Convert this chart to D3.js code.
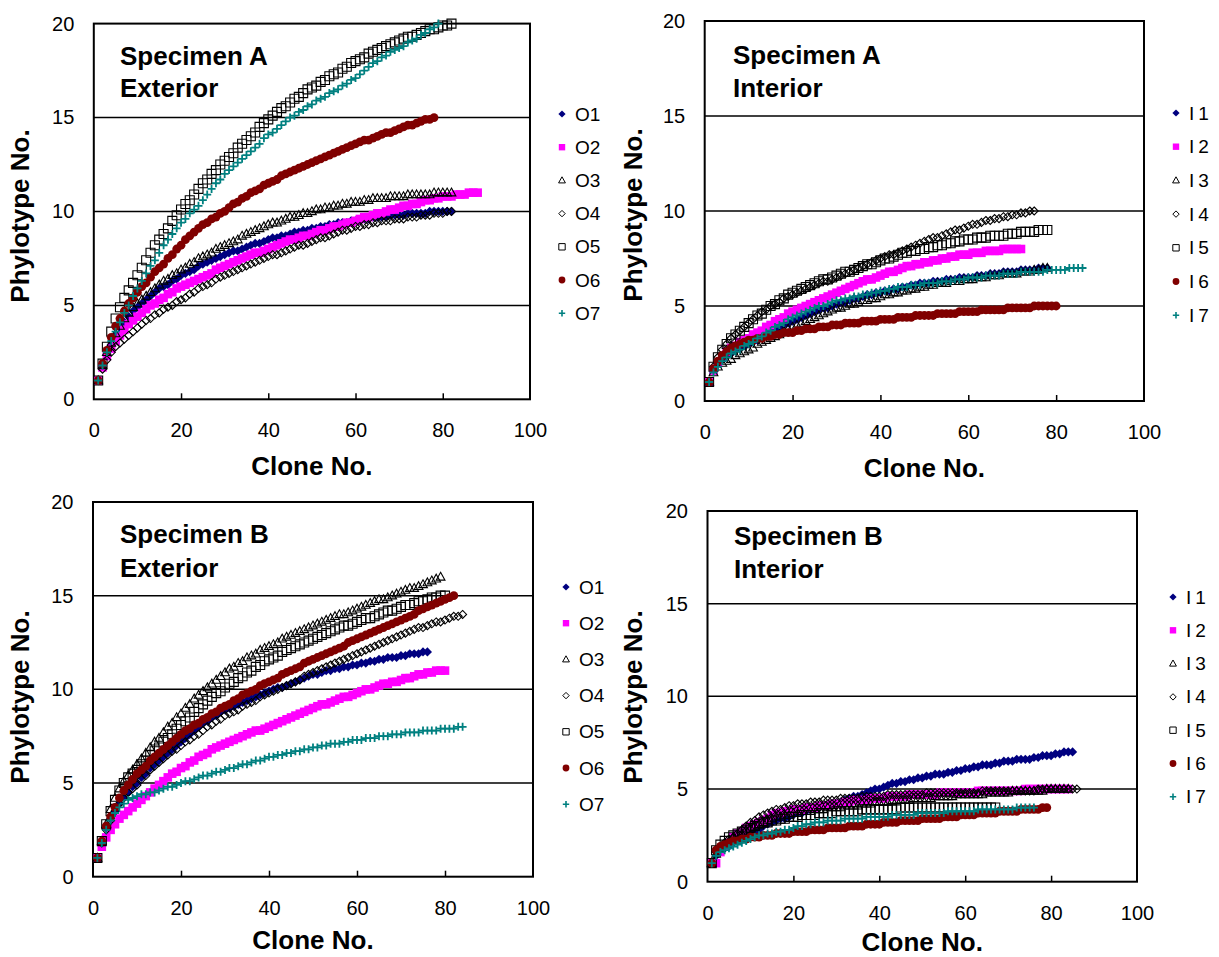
<!DOCTYPE html>
<html><head><meta charset="utf-8">
<script src="https://cdn.jsdelivr.net/npm/d3@7"></script>
<style>body{margin:0;background:#fff}svg{display:block}text{font-family:"Liberation Sans",Arial,sans-serif}</style>
</head><body><svg id="c" width="1219" height="957"></svg>
<script>
// ---------- data: phylotype no. at clone 1..N ----------
const aExtO1=[1.0,1.8,2.4,2.9,3.4,3.8,4.1,4.4,4.7,4.9,5.1,5.3,5.5,5.7,5.9,6.0,6.1,6.3,6.4,6.6,6.7,6.8,6.9,7.1,7.2,7.3,7.4,7.5,7.6,7.7,7.8,7.9,7.9,8.0,8.1,8.2,8.3,8.3,8.4,8.5,8.6,8.6,8.7,8.7,8.8,8.9,8.9,9.0,9.0,9.1,9.1,9.2,9.2,9.3,9.3,9.4,9.4,9.4,9.5,9.5,9.5,9.6,9.6,9.7,9.7,9.7,9.7,9.8,9.8,9.8,9.8,9.9,9.9,9.9,9.9,9.9,10.0,10.0,10.0,10.0,10.0,10.0];
const aExtO2=[1.0,1.7,2.3,2.7,3.1,3.4,3.7,4.0,4.2,4.4,4.6,4.8,5.0,5.1,5.3,5.4,5.6,5.7,5.9,6.0,6.1,6.2,6.3,6.4,6.5,6.6,6.7,6.9,7.0,7.1,7.2,7.3,7.4,7.5,7.6,7.7,7.8,7.8,7.9,8.0,8.1,8.2,8.3,8.4,8.5,8.5,8.6,8.7,8.7,8.8,8.9,9.0,9.0,9.1,9.2,9.2,9.3,9.4,9.4,9.5,9.6,9.7,9.7,9.8,9.9,9.9,10.0,10.1,10.1,10.2,10.3,10.3,10.4,10.4,10.5,10.6,10.6,10.7,10.7,10.8,10.8,10.8,10.9,10.9,10.9,11.0,11.0,11.0];
const aExtO3=[1.0,1.8,2.5,3.0,3.5,3.9,4.3,4.6,4.9,5.1,5.3,5.5,5.7,5.9,6.1,6.3,6.4,6.6,6.7,6.9,7.0,7.2,7.3,7.5,7.6,7.7,7.8,8.0,8.1,8.2,8.3,8.4,8.5,8.7,8.8,8.9,9.0,9.1,9.2,9.3,9.4,9.4,9.5,9.6,9.7,9.7,9.8,9.9,9.9,10.0,10.1,10.1,10.2,10.2,10.3,10.3,10.4,10.4,10.5,10.5,10.5,10.6,10.6,10.7,10.7,10.7,10.7,10.8,10.8,10.8,10.8,10.9,10.9,10.9,10.9,10.9,10.9,11.0,11.0,11.0,11.0,11.0];
const aExtO4=[1.0,1.6,2.1,2.5,2.8,3.0,3.2,3.4,3.6,3.8,4.0,4.2,4.3,4.5,4.6,4.8,4.9,5.0,5.2,5.3,5.4,5.6,5.7,5.9,6.0,6.1,6.2,6.4,6.5,6.6,6.7,6.8,6.9,7.0,7.1,7.2,7.3,7.4,7.5,7.6,7.7,7.7,7.8,7.9,8.0,8.1,8.2,8.2,8.3,8.4,8.5,8.6,8.6,8.7,8.8,8.9,9.0,9.0,9.1,9.2,9.2,9.3,9.3,9.4,9.4,9.5,9.5,9.5,9.6,9.6,9.6,9.7,9.7,9.7,9.8,9.8,9.8,9.9,9.9,9.9,10.0,10.0];
const aExtO5=[1.0,1.9,2.8,3.6,4.3,4.9,5.4,5.8,6.2,6.6,7.0,7.4,7.8,8.2,8.5,8.8,9.1,9.5,9.8,10.1,10.4,10.6,10.9,11.2,11.5,11.7,12.0,12.2,12.5,12.7,12.9,13.1,13.4,13.6,13.8,14.0,14.2,14.5,14.7,14.9,15.1,15.3,15.5,15.6,15.8,16.0,16.1,16.3,16.5,16.6,16.7,16.9,17.0,17.2,17.3,17.4,17.6,17.7,17.9,18.0,18.1,18.2,18.4,18.5,18.6,18.7,18.8,18.9,19.0,19.1,19.2,19.3,19.3,19.4,19.5,19.6,19.7,19.7,19.8,19.9,19.9,20.0];
const aExtO6=[1.0,1.9,2.6,3.3,3.9,4.3,4.7,5.1,5.4,5.7,6.0,6.2,6.5,6.8,7.0,7.2,7.5,7.7,8.0,8.2,8.5,8.7,8.9,9.1,9.3,9.4,9.6,9.7,9.9,10.0,10.2,10.4,10.5,10.7,10.8,11.0,11.1,11.2,11.4,11.5,11.6,11.7,11.9,12.0,12.1,12.2,12.3,12.4,12.5,12.6,12.7,12.8,12.9,13.0,13.1,13.2,13.3,13.4,13.5,13.6,13.7,13.8,13.8,13.9,14.0,14.1,14.2,14.2,14.3,14.4,14.5,14.6,14.6,14.7,14.8,14.9,14.9,15.0];
const aExtO7=[1.0,1.8,2.5,3.1,3.6,4.1,4.6,5.0,5.5,5.9,6.3,6.7,7.1,7.4,7.8,8.2,8.5,8.8,9.1,9.4,9.6,9.9,10.1,10.3,10.6,10.9,11.2,11.5,11.7,12.0,12.2,12.4,12.6,12.8,13.0,13.2,13.4,13.6,13.9,14.1,14.2,14.4,14.6,14.8,15.0,15.1,15.3,15.4,15.6,15.7,15.9,16.0,16.1,16.3,16.4,16.5,16.7,16.8,17.0,17.1,17.3,17.5,17.7,17.9,18.0,18.2,18.3,18.5,18.6,18.7,18.8,19.0,19.1,19.2,19.4,19.5,19.7,19.8,20.0];

const aIntI1=[1.0,1.6,2.0,2.2,2.4,2.5,2.7,2.8,2.9,3.0,3.1,3.2,3.4,3.5,3.6,3.7,3.8,4.0,4.1,4.2,4.3,4.4,4.5,4.6,4.7,4.8,4.9,4.9,5.0,5.1,5.2,5.2,5.3,5.4,5.4,5.5,5.6,5.6,5.7,5.7,5.8,5.8,5.9,5.9,6.0,6.0,6.1,6.1,6.2,6.2,6.2,6.3,6.3,6.3,6.4,6.4,6.4,6.5,6.5,6.5,6.5,6.6,6.6,6.6,6.7,6.7,6.7,6.8,6.8,6.8,6.8,6.9,6.9,6.9,6.9,7.0,7.0,7.0];
const aIntI2=[1.0,1.6,2.0,2.3,2.6,2.8,2.9,3.1,3.2,3.3,3.5,3.6,3.7,3.9,4.0,4.2,4.3,4.4,4.6,4.7,4.8,4.9,5.0,5.1,5.2,5.3,5.4,5.5,5.6,5.7,5.8,5.9,6.0,6.1,6.2,6.3,6.4,6.4,6.5,6.6,6.7,6.8,6.8,6.9,7.0,7.1,7.1,7.2,7.2,7.3,7.3,7.4,7.4,7.5,7.5,7.6,7.6,7.7,7.7,7.7,7.8,7.8,7.8,7.9,7.9,7.9,7.9,8.0,8.0,8.0,8.0,8.0];
const aIntI3=[1.0,1.5,1.8,2.0,2.1,2.2,2.4,2.5,2.6,2.7,2.8,3.0,3.1,3.2,3.3,3.4,3.5,3.7,3.8,3.9,4.0,4.1,4.2,4.3,4.4,4.5,4.6,4.7,4.8,4.9,4.9,5.0,5.1,5.1,5.2,5.3,5.3,5.4,5.4,5.5,5.6,5.6,5.7,5.7,5.8,5.8,5.9,5.9,6.0,6.0,6.1,6.1,6.2,6.2,6.2,6.3,6.3,6.3,6.4,6.4,6.4,6.5,6.5,6.5,6.6,6.6,6.6,6.7,6.7,6.7,6.7,6.8,6.8,6.8,6.9,6.9,7.0,7.0];
const aIntI4=[1.0,1.8,2.3,2.7,3.0,3.3,3.5,3.7,3.9,4.1,4.3,4.5,4.7,4.8,5.0,5.1,5.2,5.4,5.5,5.6,5.7,5.8,5.9,6.0,6.1,6.2,6.3,6.3,6.4,6.5,6.6,6.7,6.8,6.9,7.0,7.1,7.2,7.3,7.4,7.5,7.6,7.7,7.7,7.8,7.9,8.0,8.1,8.2,8.3,8.4,8.5,8.6,8.6,8.7,8.8,8.9,9.0,9.0,9.1,9.2,9.3,9.3,9.4,9.5,9.5,9.6,9.6,9.7,9.7,9.8,9.8,9.9,9.9,10.0,10.0];
const aIntI5=[1.0,1.8,2.3,2.7,3.0,3.3,3.5,3.7,3.9,4.1,4.3,4.5,4.6,4.8,5.0,5.1,5.3,5.4,5.6,5.7,5.8,5.9,6.0,6.1,6.2,6.3,6.4,6.4,6.5,6.6,6.7,6.8,6.8,6.9,7.0,7.1,7.2,7.2,7.3,7.4,7.5,7.5,7.6,7.7,7.8,7.8,7.9,7.9,8.0,8.0,8.1,8.1,8.2,8.2,8.3,8.3,8.4,8.4,8.5,8.5,8.5,8.6,8.6,8.6,8.7,8.7,8.7,8.7,8.8,8.8,8.8,8.9,8.9,8.9,8.9,9.0,9.0,9.0];
const aIntI6=[1.0,1.7,2.1,2.4,2.6,2.8,2.9,3.0,3.1,3.2,3.2,3.3,3.3,3.4,3.4,3.5,3.5,3.6,3.6,3.6,3.7,3.7,3.8,3.8,3.8,3.9,3.9,3.9,4.0,4.0,4.0,4.1,4.1,4.1,4.1,4.2,4.2,4.2,4.2,4.3,4.3,4.3,4.3,4.4,4.4,4.4,4.4,4.5,4.5,4.5,4.5,4.5,4.6,4.6,4.6,4.6,4.6,4.7,4.7,4.7,4.7,4.7,4.8,4.8,4.8,4.8,4.8,4.8,4.9,4.9,4.9,4.9,4.9,4.9,5.0,5.0,5.0,5.0,5.0,5.0];
const aIntI7=[1.0,1.5,1.8,2.1,2.3,2.5,2.6,2.7,2.9,3.0,3.1,3.3,3.4,3.6,3.7,3.9,4.0,4.1,4.3,4.4,4.5,4.6,4.7,4.8,4.9,5.0,5.0,5.1,5.2,5.3,5.3,5.4,5.4,5.5,5.5,5.6,5.6,5.7,5.7,5.8,5.8,5.9,5.9,6.0,6.0,6.0,6.1,6.1,6.1,6.2,6.2,6.2,6.2,6.3,6.3,6.3,6.4,6.4,6.4,6.5,6.5,6.5,6.5,6.6,6.6,6.6,6.6,6.7,6.7,6.7,6.7,6.8,6.8,6.8,6.8,6.8,6.8,6.9,6.9,6.9,6.9,6.9,7.0,7.0,7.0,7.0];

const bExtO1=[1.0,1.9,2.6,3.1,3.5,3.9,4.2,4.5,4.8,5.0,5.3,5.5,5.8,6.0,6.2,6.4,6.6,6.8,7.0,7.2,7.4,7.6,7.8,8.0,8.2,8.3,8.5,8.6,8.8,8.9,9.0,9.1,9.2,9.3,9.4,9.5,9.6,9.7,9.8,9.9,10.0,10.1,10.1,10.2,10.3,10.4,10.5,10.6,10.7,10.8,10.8,10.9,11.0,11.0,11.1,11.1,11.2,11.2,11.3,11.3,11.4,11.4,11.5,11.5,11.6,11.6,11.7,11.7,11.7,11.8,11.8,11.9,11.9,11.9,12.0,12.0];
const bExtO2=[1.0,1.6,2.1,2.5,2.8,3.1,3.3,3.5,3.7,3.9,4.1,4.3,4.5,4.7,4.9,5.1,5.3,5.5,5.6,5.8,5.9,6.1,6.2,6.4,6.5,6.6,6.8,6.9,7.0,7.1,7.2,7.3,7.4,7.5,7.6,7.7,7.8,7.8,7.9,8.0,8.1,8.2,8.3,8.4,8.5,8.6,8.7,8.8,8.9,9.0,9.1,9.2,9.2,9.3,9.4,9.5,9.6,9.6,9.7,9.8,9.9,10.0,10.0,10.1,10.2,10.3,10.3,10.4,10.4,10.5,10.6,10.6,10.7,10.8,10.8,10.9,10.9,11.0,11.0,11.0];
const bExtO3=[1.0,1.9,2.8,3.6,4.2,4.7,5.1,5.4,5.7,6.0,6.3,6.6,6.9,7.2,7.4,7.7,8.0,8.2,8.5,8.7,9.0,9.2,9.5,9.7,9.9,10.1,10.3,10.5,10.7,10.9,11.1,11.2,11.4,11.5,11.7,11.8,11.9,12.1,12.2,12.3,12.4,12.5,12.7,12.8,12.9,13.0,13.1,13.2,13.3,13.4,13.5,13.6,13.7,13.8,13.9,14.0,14.0,14.1,14.2,14.3,14.4,14.5,14.6,14.7,14.8,14.8,14.9,15.0,15.1,15.2,15.3,15.4,15.4,15.5,15.6,15.7,15.8,15.9,16.0];
const bExtO4=[1.0,1.8,2.5,3.0,3.5,3.9,4.2,4.5,4.7,4.9,5.2,5.4,5.7,5.9,6.1,6.3,6.5,6.7,6.8,7.0,7.2,7.3,7.5,7.6,7.8,8.0,8.1,8.3,8.4,8.6,8.7,8.8,8.9,9.1,9.2,9.3,9.4,9.6,9.7,9.8,9.9,10.0,10.1,10.2,10.3,10.4,10.5,10.7,10.8,10.9,11.0,11.1,11.2,11.3,11.4,11.5,11.6,11.7,11.8,11.9,12.0,12.1,12.2,12.3,12.4,12.5,12.6,12.7,12.8,12.9,13.0,13.1,13.2,13.3,13.3,13.4,13.5,13.6,13.6,13.7,13.8,13.9,13.9,14.0];
const bExtO5=[1.0,1.9,2.8,3.5,4.1,4.6,5.0,5.3,5.5,5.7,6.0,6.2,6.5,6.7,6.9,7.2,7.4,7.6,7.9,8.1,8.3,8.5,8.8,9.0,9.2,9.4,9.6,9.8,9.9,10.1,10.3,10.4,10.6,10.7,10.9,11.0,11.2,11.3,11.5,11.6,11.7,11.8,12.0,12.1,12.2,12.3,12.4,12.5,12.6,12.7,12.8,12.9,13.0,13.1,13.2,13.3,13.4,13.4,13.5,13.6,13.7,13.8,13.8,13.9,14.0,14.1,14.2,14.2,14.3,14.4,14.5,14.5,14.6,14.7,14.7,14.8,14.9,14.9,15.0,15.0];
const bExtO6=[1.0,1.9,2.7,3.2,3.7,4.2,4.6,4.9,5.2,5.5,5.7,5.9,6.2,6.4,6.6,6.8,7.0,7.2,7.4,7.6,7.8,7.9,8.1,8.2,8.4,8.5,8.7,8.8,9.0,9.1,9.2,9.4,9.5,9.7,9.8,9.9,10.0,10.2,10.3,10.4,10.5,10.6,10.8,10.9,11.0,11.1,11.2,11.4,11.5,11.6,11.7,11.8,11.9,12.0,12.1,12.2,12.3,12.5,12.6,12.7,12.8,12.9,13.0,13.1,13.2,13.3,13.4,13.5,13.6,13.7,13.8,13.9,14.0,14.2,14.3,14.4,14.5,14.6,14.7,14.8,14.9,15.0];
const bExtO7=[1.0,1.8,2.5,3.0,3.4,3.7,3.9,4.1,4.2,4.3,4.4,4.4,4.5,4.5,4.6,4.7,4.8,4.8,4.9,5.0,5.1,5.1,5.2,5.3,5.4,5.4,5.5,5.6,5.6,5.7,5.8,5.8,5.9,6.0,6.0,6.1,6.2,6.2,6.3,6.4,6.4,6.5,6.5,6.6,6.6,6.7,6.7,6.8,6.8,6.9,6.9,7.0,7.0,7.1,7.1,7.1,7.2,7.2,7.3,7.3,7.3,7.4,7.4,7.4,7.5,7.5,7.5,7.6,7.6,7.6,7.7,7.7,7.7,7.7,7.8,7.8,7.8,7.8,7.9,7.9,7.9,7.9,8.0,8.0];

const bIntI1=[1.0,1.4,1.6,1.8,1.9,2.1,2.2,2.3,2.5,2.6,2.7,2.8,3.0,3.1,3.2,3.3,3.4,3.4,3.5,3.6,3.7,3.7,3.8,3.9,3.9,4.0,4.1,4.1,4.2,4.2,4.3,4.4,4.5,4.6,4.6,4.7,4.8,4.9,5.0,5.0,5.1,5.2,5.3,5.3,5.4,5.4,5.5,5.5,5.6,5.6,5.7,5.7,5.8,5.8,5.8,5.9,5.9,6.0,6.0,6.1,6.1,6.2,6.2,6.3,6.3,6.3,6.4,6.4,6.5,6.5,6.5,6.6,6.6,6.6,6.6,6.7,6.7,6.8,6.8,6.8,6.9,6.9,7.0,7.0,7.0];
const bIntI2=[1.0,1.0,1.6,1.9,2.1,2.4,2.6,2.7,2.9,3.0,3.1,3.2,3.3,3.4,3.6,3.7,3.7,3.8,3.8,3.9,3.9,3.9,4.0,4.0,4.0,4.1,4.1,4.1,4.2,4.2,4.2,4.3,4.3,4.4,4.4,4.4,4.4,4.5,4.5,4.5,4.5,4.6,4.6,4.6,4.6,4.6,4.7,4.7,4.7,4.7,4.7,4.7,4.7,4.8,4.8,4.8,4.8,4.8,4.8,4.8,4.8,4.8,4.9,4.9,4.9,4.9,4.9,4.9,4.9,4.9,4.9,4.9,4.9,5.0,5.0,5.0,5.0,5.0,5.0,5.0,5.0,5.0,5.0,5.0];
const bIntI3=[1.0,1.5,1.8,2.0,2.2,2.4,2.5,2.6,2.8,2.9,3.0,3.1,3.2,3.3,3.4,3.5,3.5,3.6,3.6,3.7,3.7,3.8,3.8,3.8,3.9,3.9,3.9,4.0,4.0,4.0,4.0,4.1,4.1,4.1,4.1,4.2,4.2,4.2,4.3,4.3,4.3,4.3,4.4,4.4,4.4,4.4,4.4,4.5,4.5,4.5,4.5,4.5,4.6,4.6,4.6,4.6,4.6,4.7,4.7,4.7,4.7,4.7,4.7,4.7,4.8,4.8,4.8,4.8,4.8,4.8,4.9,4.9,4.9,4.9,4.9,4.9,4.9,4.9,5.0,5.0,5.0,5.0,5.0,5.0];
const bIntI4=[1.0,1.6,1.9,2.1,2.3,2.4,2.6,2.8,3.0,3.2,3.3,3.5,3.6,3.7,3.8,3.9,3.9,4.0,4.1,4.1,4.2,4.2,4.2,4.3,4.3,4.3,4.4,4.4,4.4,4.4,4.5,4.5,4.5,4.5,4.5,4.6,4.6,4.6,4.6,4.6,4.6,4.7,4.7,4.7,4.7,4.7,4.7,4.7,4.7,4.7,4.8,4.8,4.8,4.8,4.8,4.8,4.8,4.8,4.8,4.8,4.8,4.8,4.8,4.9,4.9,4.9,4.9,4.9,4.9,4.9,4.9,4.9,4.9,4.9,4.9,4.9,5.0,5.0,5.0,5.0,5.0,5.0,5.0,5.0,5.0,5.0];
const bIntI5=[1.0,1.7,2.0,2.2,2.4,2.5,2.6,2.7,2.8,2.9,3.0,3.1,3.2,3.2,3.3,3.3,3.4,3.4,3.5,3.5,3.5,3.6,3.6,3.6,3.6,3.7,3.7,3.7,3.7,3.8,3.8,3.8,3.8,3.8,3.8,3.9,3.9,3.9,3.9,3.9,3.9,3.9,3.9,3.9,4.0,4.0,4.0,4.0,4.0,4.0,4.0,4.0,4.0,4.0,4.0,4.0,4.0,4.0,4.0,4.0,4.0,4.0,4.0,4.0,4.0,4.0,4.0];
const bIntI6=[1.0,1.7,1.9,2.0,2.1,2.2,2.2,2.3,2.3,2.4,2.4,2.4,2.5,2.5,2.5,2.6,2.6,2.6,2.6,2.7,2.7,2.7,2.7,2.8,2.8,2.8,2.8,2.9,2.9,2.9,2.9,2.9,3.0,3.0,3.0,3.0,3.1,3.1,3.1,3.1,3.2,3.2,3.2,3.2,3.3,3.3,3.3,3.3,3.3,3.4,3.4,3.4,3.4,3.4,3.5,3.5,3.5,3.5,3.6,3.6,3.6,3.6,3.7,3.7,3.7,3.7,3.7,3.8,3.8,3.8,3.8,3.8,3.9,3.9,3.9,3.9,3.9,4.0,4.0];
const bIntI7=[1.0,1.4,1.6,1.7,1.8,1.9,2.0,2.1,2.2,2.3,2.4,2.5,2.5,2.6,2.6,2.7,2.7,2.8,2.8,2.9,3.0,3.0,3.1,3.1,3.2,3.2,3.2,3.3,3.3,3.3,3.3,3.4,3.4,3.4,3.4,3.4,3.5,3.5,3.5,3.5,3.5,3.5,3.6,3.6,3.6,3.6,3.6,3.6,3.7,3.7,3.7,3.7,3.7,3.7,3.7,3.8,3.8,3.8,3.8,3.8,3.8,3.8,3.9,3.9,3.9,3.9,3.9,3.9,3.9,3.9,3.9,4.0,4.0,4.0,4.0,4.0];

const xTickValues=[0,20,40,60,80,100];
const yTickValues=[0,5,10,15,20];
const gridValues=[5,10,15];
const extNames=["O1","O2","O3","O4","O5","O6","O7"];
const intNames=["I1","I2","I3","I4","I5","I6","I7"];
const panelTitles=[["Specimen A","Exterior"],["Specimen A","Interior"],["Specimen B","Exterior"],["Specimen B","Interior"]];
const panelSeries=[
  [aExtO1,aExtO2,aExtO3,aExtO4,aExtO5,aExtO6,aExtO7],
  [aIntI1,aIntI2,aIntI3,aIntI4,aIntI5,aIntI6,aIntI7],
  [bExtO1,bExtO2,bExtO3,bExtO4,bExtO5,bExtO6,bExtO7],
  [bIntI1,bIntI2,bIntI3,bIntI4,bIntI5,bIntI6,bIntI7]
];
const panelNames=[extNames,intNames,extNames,intNames];

// ---------- styles & layout ----------
const seriesStyle=[
  {shape:"diamond",fill:"#000080",stroke:"none",r:4.6,lr:3.6},
  {shape:"square",fill:"#ff00ff",stroke:"none",r:4.3,lr:3.2},
  {shape:"triangle",fill:"none",stroke:"#000",r:4.6,lr:3.6},
  {shape:"diamond",fill:"none",stroke:"#000",r:4,lr:3.2},
  {shape:"square",fill:"none",stroke:"#000",r:4.5,lr:3.2},
  {shape:"circle",fill:"#800000",stroke:"none",r:4.4,lr:3.4},
  {shape:"plus",fill:"none",stroke:"#008080",r:4,lr:3.2}
];
const layouts=[
  {x0:93.8,x1:530,yb:399.3,yt:23.6,tx:120,ty:[65,97],lx:562,ly:114,ldy:33.2,ytx:29,yty:216,xty:475},
  {x0:704.7,x1:1144,yb:401,yt:21,tx:733,ty:[64,97],lx:1176,ly:113,ldy:33.7,ytx:642,yty:215,xty:477},
  {x0:93,x1:533,yb:876.7,yt:502,tx:120,ty:[543,577],lx:566,ly:587,ldy:36.2,ytx:29,yty:697,xty:949},
  {x0:707.5,x1:1137,yb:881.7,yt:511,tx:734,ty:[545,578],lx:1173,ly:597,ldy:33.3,ytx:642,yty:697,xty:951}
];

function shapePath(s,r){
  switch(s){
    case "diamond": return `M0,${-r}L${r},0L0,${r}L${-r},0Z`;
    case "square": return `M${-r},${-r}H${r}V${r}H${-r}Z`;
    case "triangle": return `M0,${-r}L${r*0.95},${r*0.7}L${-r*0.95},${r*0.7}Z`;
    case "circle": return d3.symbol(d3.symbolCircle,Math.PI*r*r)();
    case "plus": return `M${-r},0H${r}M0,${-r}V${r}`;
  }
}

const svg=d3.select("#c");
svg.append("rect").attr("width",1219).attr("height",957).attr("fill","#fff");

panelSeries.forEach((series,pi)=>{
  const L=layouts[pi];
  const x=d3.scaleLinear().domain([0,100]).range([L.x0,L.x1]);
  const y=d3.scaleLinear().domain([0,20]).range([L.yb,L.yt]);
  const g=svg.append("g");

  g.selectAll("line.grid").data(gridValues).join("line").attr("class","grid")
    .attr("x1",L.x0).attr("x2",L.x1).attr("y1",d=>y(d)).attr("y2",d=>y(d))
    .attr("stroke","#000").attr("stroke-width",1.5);

  const xa=g.append("g").attr("transform",`translate(0,${L.yb})`)
    .call(d3.axisBottom(x).tickValues(xTickValues).tickSize(-6).tickPadding(24).tickFormat(d3.format("d")));
  const ya=g.append("g").attr("transform",`translate(${L.x0},0)`)
    .call(d3.axisLeft(y).tickValues(yTickValues).tickSize(0).tickPadding(19.5).tickFormat(d3.format("d")));
  [xa,ya].forEach(a=>{
    a.select(".domain").remove();
    a.selectAll("line").attr("stroke","#000").attr("stroke-width",1.5);
    a.selectAll("text").attr("font-size",20).attr("fill","#000")
      .attr("font-family","'Liberation Sans',Arial,sans-serif");
  });
  xa.selectAll(".tick").filter(d=>d===0||d===100).select("line").remove();

  g.append("rect").attr("x",L.x0).attr("y",L.yt).attr("width",L.x1-L.x0).attr("height",L.yb-L.yt)
    .attr("fill","none").attr("stroke","#000").attr("stroke-width",2);

  // series markers
  series.forEach((vals,si)=>{
    const st=seriesStyle[si];
    const d=shapePath(st.shape,st.r);
    g.append("g").selectAll("path").data(vals).join("path")
      .attr("transform",(v,i)=>`translate(${x(i+1)},${y(v)})`)
      .attr("d",d).attr("fill",st.fill).attr("stroke",st.stroke)
      .attr("stroke-width",st.shape==="plus"?1.8:1.1);
  });

  // legend
  const names=panelNames[pi];
  const lg=g.append("g");
  names.forEach((n,si)=>{
    const st=seriesStyle[si];
    const cy=L.ly+si*L.ldy;
    lg.append("path").attr("transform",`translate(${L.lx},${cy})`)
      .attr("d",shapePath(st.shape,st.lr)).attr("fill",st.fill).attr("stroke",st.stroke)
      .attr("stroke-width",st.shape==="plus"?1.6:1);
    lg.append("text").attr("x",L.lx+13).attr("y",cy+6.5).attr("font-size",19)
      .attr("letter-spacing",n[0]==="I"?"4px":"0px").text(n);
  });

  // titles
  panelTitles[pi].forEach((t,k)=>{
    g.append("text").attr("x",L.tx).attr("y",L.ty[k]).attr("font-size",26).attr("font-weight","bold").text(t);
  });
  g.append("text").attr("x",(L.x0+L.x1)/2).attr("y",L.xty).attr("text-anchor","middle")
    .attr("font-size",26).attr("font-weight","bold").text("Clone No.");
  g.append("text").attr("transform",`translate(${L.ytx},${L.yty}) rotate(-90)`).attr("text-anchor","middle")
    .attr("font-size",26).attr("font-weight","bold").text("Phylotype No.");
});
</script></body></html>
